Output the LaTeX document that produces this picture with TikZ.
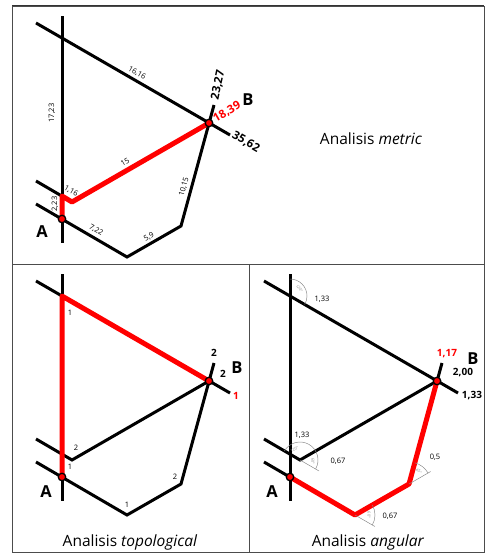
\documentclass[tikz,border=0pt]{standalone}
\usepackage{fontspec}
\setmainfont{Open Sans}
\usetikzlibrary{calc}

\tikzset{
  jalan/.style={line width=3pt},
  rute/.style={red, line width=5pt, line join=round},
  titik/.style={circle, draw=black, fill=red, line width=1.3pt, inner sep=0pt, minimum size=7.5pt},
  lbl/.style={font=\fontsize{7.5}{8}\selectfont, inner sep=0pt},
  lblb/.style={font=\bfseries\fontsize{10}{11}\selectfont, inner sep=0pt},
  lblbb/.style={font=\bfseries\fontsize{11.5}{12}\selectfont, inner sep=0pt},
  huruf/.style={font=\bfseries\fontsize{16.5}{18}\selectfont, inner sep=0pt},
  judul/.style={font=\fontsize{15.5}{17}\selectfont, inner sep=0pt},
  sudut/.style={black!45, line width=0.5pt},
  lblsudut/.style={black!45, font=\fontsize{4}{5}\selectfont, inner sep=0pt},
}

% jaringan jalan (titik potong diberi nama dengan awalan #1)
\newcommand{\jaringan}[1]{%
  \coordinate (#1vt) at (62,16);
  \coordinate (#1vb) at (62,243);
  \coordinate (#1t0) at (36,23);
  \coordinate (#1t1) at (62,38);
  \coordinate (#1B) at (209,123);
  \coordinate (#1t2) at (230,135);
  \coordinate (#1m0) at (36,181);
  \coordinate (#1m1) at (62,196);
  \coordinate (#1m2) at (72,202);
  \coordinate (#1l0) at (36,204);
  \coordinate (#1A) at (62,219);
  \coordinate (#1l1) at (127,257);
  \coordinate (#1l2) at (181,226);
  \coordinate (#1bt) at (214,105);
  \draw[jalan] (#1vt) -- (#1vb);
  \draw[jalan] (#1t0) -- (#1t2);
  \draw[jalan] (#1m0) -- (#1m2) -- (#1B);
  \draw[jalan] (#1l0) -- (#1l1) -- (#1l2) -- (#1bt);
}

\begin{document}
\begin{tikzpicture}[x=1pt,y=-1pt]
    \useasboundingbox (0,0) rectangle (485,554);

    % bingkai
    \draw[black!80, line width=1.2pt] (12,6) -- (484,6);
    \draw[black!70, line width=0.8pt] (12,6) rectangle (484,552);
    \draw[black!70, line width=0.8pt] (12,264) -- (484,264);
    \draw[black!70, line width=0.8pt] (249,264) -- (249,552);

    % analisis metric
    \jaringan{a}
    \draw[rute] (aA) -- (am1) -- (am2) -- (aB);
    \node[titik] (aAdot) at (aA) {};
    \node[titik] (aBdot) at (aB) {};
    \node[lbl, rotate=-30] (a1616) at (137,73) {16,16};
    \node[lbl, rotate=90] (a1723) at (52,113) {17,23};
    \node[lbl, rotate=30] (a15) at (125,162) {15};
    \node[lbl, rotate=-30] (a116) at (71,191) {1,16};
    \node[lbl, rotate=90] (a223) at (55,204) {2,23};
    \node[lbl, rotate=-30] (a722) at (96,230) {7,22};
    \node[lbl, rotate=30] (a59) at (149,237) {5,9};
    \node[lbl, rotate=75] (a1015) at (184,187) {10,15};
    \node[lblbb, rotate=78] (a2327) at (218,85) {23,27};
    \node[lblbb, rotate=30, red] (a1839) at (227,112) {18,39};
    \node[lblbb, rotate=-30] (a3562) at (246,142) {35,62};
    \node[huruf] (aBlbl) at (248,100) {B};
    \node[huruf] (aAlbl) at (42,232) {A};
    \node[judul] (ajudul) at (371,139) {Analisis \textit{metric}};

    % analisis topological
    \begin{scope}[shift={(0,258)}]
      \jaringan{b}
    \end{scope}
    \draw[rute] (bA) -- (bt1) -- (bB);
    \node[titik] (bAdot) at (bA) {};
    \node[titik] (bBdot) at (bB) {};
    \node[lbl] (b1a) at (70,313) {1};
    \node[lblb] (b2a) at (214,353) {2};
    \node[lblb] (b2b) at (223,374) {2};
    \node[lblb, red] (b1b) at (236,396) {1};
    \node[lbl] (b2c) at (76,448) {2};
    \node[lbl] (b1c) at (70,467) {1};
    \node[lbl] (b1d) at (127,505) {1};
    \node[lbl] (b2d) at (175,477) {2};
    \node[huruf] (bBlbl) at (237,368) {B};
    \node[huruf] (bAlbl) at (46,492) {A};
    \node[judul] (bjudul) at (130,542) {Analisis \textit{topological}};

    % analisis angular
    \begin{scope}[shift={(228,258)}]
      \jaringan{c}
    \end{scope}
    \draw[rute] (cA) -- (cl1) -- (cl2) -- (cB);
    \node[titik] (cAdot) at (cA) {};
    \node[titik] (cBdot) at (cB) {};
    % sudut belokan
    \draw[sudut] (ct1) ++(-90:17) arc[start angle=-90, end angle=30, radius=17];
    \path (ct1) ++(-38:12) node[lblsudut, rotate=-52] (cs1) {120°};
    \draw[sudut] (cm2) -- ++(30:22);
    \draw[sudut] (cm2) ++(-150:18) arc[start angle=-150, end angle=30, radius=18];
    \path (cm2) ++(-118:12) node[lblsudut, rotate=28] (cs2) {120°};
    \path (cm2) ++(5:13) node[lblsudut, rotate=-85] (cs3) {60°};
    \draw[sudut] (cl1) -- ++(30:23);
    \draw[sudut] (cl1) ++(-30:20) arc[start angle=-30, end angle=30, radius=20];
    \path (cl1) ++(0:14) node[lblsudut, rotate=-90] (cs4) {60°};
    \draw[sudut] (cl2) -- ++(-30:25);
    \draw[sudut] (cl2) ++(-30:22) arc[start angle=-30, end angle=-75, radius=22];
    \path (cl2) ++(-52:16) node[lblsudut, rotate=-38] (cs5) {45°};
    \node[lbl] (c133a) at (322,299) {1,33};
    \node[lbl] (c133b) at (302,435) {1,33};
    \node[lbl] (c067a) at (338,461) {0,67};
    \node[lbl] (c05) at (435,457) {0,5};
    \node[lbl] (c067b) at (390,516) {0,67};
    \node[lblb, red] (c117) at (447,354) {1,17};
    \node[lblb] (c200) at (463,373) {2,00};
    \node[lblb] (c133c) at (472,396) {1,33};
    \node[huruf] (cBlbl) at (473,359) {B};
    \node[huruf] (cAlbl) at (272,492) {A};
    \node[judul] (cjudul) at (368,542) {Analisis \textit{angular}};
\end{tikzpicture}
\end{document}
